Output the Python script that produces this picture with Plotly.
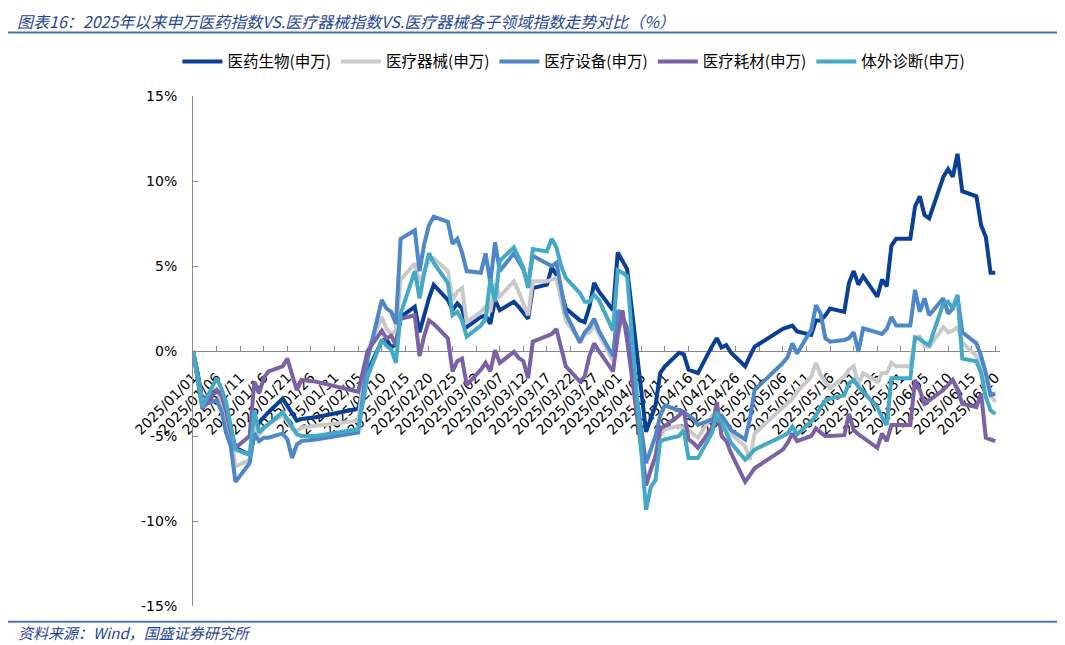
import plotly.graph_objects as go

# 交易日（1/1为基期；6/2图中有一个与5/30持平的点）
jan = [1, 2, 3, 6, 7, 8, 9, 10, 13, 14, 15, 16, 17, 20, 21, 22, 23, 24, 27]
feb = [5, 6, 7, 10, 11, 12, 13, 14, 17, 18, 19, 20, 21, 24, 25, 26, 27, 28]
mar = [3, 4, 5, 6, 7, 10, 11, 12, 13, 14, 17, 18, 19, 20, 21, 24, 25, 26, 27, 28, 31]
apr = [1, 2, 3, 7, 8, 9, 10, 11, 14, 15, 16, 17, 18, 21, 22, 23, 24, 25, 28, 29, 30]
may = [6, 7, 8, 9, 12, 13, 14, 15, 16, 19, 20, 21, 22, 23, 26, 27, 28, 29, 30]
jun = [2, 3, 4, 5, 6, 9, 10, 11, 12, 13, 16, 17, 18, 19, 20]

dates = []
for m, days in enumerate([jan, feb, mar, apr, may, jun], start=1):
    dates += ['2025-%02d-%02d' % (m, d) for d in days]

# 累计涨跌幅（%），按月分行
pharma = [
    0, -1.3, -2.9, -2.3, -2.7, -3.4, -4.6, -5.7, -6.1, -5.0, -4.2, -3.9, -3.6, -2.8, -3.2, -3.7, -4.1, -4.0, -3.9,
    -3.4, -2.3, -1.2, 0.6, 0.7, 0.2, 0.4, 2.0, 2.6, 1.1, 2.2, 3.1, 3.9, 3.0, 2.4, 2.8, 2.5, 1.4,
    2.0, 2.1, 1.6, 3.0, 2.4, 2.9, 2.6, 2.2, 1.9, 3.7, 3.9, 4.9, 4.5, 3.5, 2.5, 1.8, 1.7, 2.6, 4.0, 3.5, 2.4,
    5.8, 5.3, 4.8, -4.75, -4.0, -3.2, -1.3, -0.9, -0.1, -0.2, -1.1, -1.2, -1.3, 0.3, 0.75, 0.2, 0.35, -0.1, -0.9, -0.3, 0.25,
    1.3, 1.4, 1.5, 1.15, 0.95, 1.8, 1.8, 2.1, 2.5, 2.3, 4.0, 4.7, 3.9, 4.4, 3.2, 4.2, 3.8, 6.2, 6.6,
    6.6, 8.5, 9.1, 8.0, 7.8, 10.25, 10.7, 10.25, 11.6, 9.4, 9.1, 7.4, 6.7, 4.6, 4.6,
]
device = [
    0, -1.4, -3.0, -2.4, -2.9, -4.0, -5.0, -6.8, -6.4, -4.4, -4.9, -4.6, -4.3, -3.8, -4.1, -4.6, -4.7, -4.5, -4.4,
    -4.1, -2.0, 0.0, 2.0, 1.3, 1.0, 1.2, 4.2, 5.15, 4.0, 4.7, 5.35, 5.45, 4.7, 3.0, 3.5, 3.7, 1.7,
    2.3, 2.6, 2.3, 4.0, 3.2, 4.1, 3.5, 2.8, 2.1, 4.1, 4.1, 4.2, 4.3, 3.0, 1.8, 0.6, 1.0, 1.1, 1.5, 1.0, -0.6,
    2.4, 1.8, 1.2, -7.7, -7.0, -6.2, -5.0, -4.6, -4.4, -4.5, -4.65, -4.9, -5.1, -3.8, -3.9, -4.2, -4.6, -4.9, -5.6, -6.4, -4.85,
    -3.3, -3.1, -2.8, -2.4, -1.5, -0.7, -1.4, -1.8, -2.2, -1.5, -1.1, -0.9, -2.0, -1.3, -1.8, -1.3, -1.3, -0.7, -0.9,
    -0.9, 0.75, 0.85, 0.3, 0.25, 1.4, 1.1, 1.2, 1.4, 0.5, -0.3, -0.8, -1.6, -2.6, -3.0,
]
equipment = [
    0, -1.5, -3.2, -2.9, -3.5, -4.8, -5.6, -7.7, -6.6, -4.85, -5.3, -5.1, -5.1, -4.85, -5.2, -6.3, -5.5, -5.3, -5.2,
    -4.8, -2.5, -0.5, 3.0, 2.5, 2.3, 1.6, 6.6, 7.1, 4.7, 6.3, 7.4, 7.9, 7.6, 6.3, 6.6, 5.8, 4.7,
    4.6, 5.75, 4.0, 6.4, 4.7, 5.75, 5.3, 4.8, 3.9, 5.6, 5.15, 5.0, 5.2, 3.8, 2.2, 0.5, 1.1, 1.4, 1.9, 1.2, -0.3,
    2.4, 2.0, 1.4, -6.6, -5.8, -5.0, -3.8, -3.2, -3.5, -3.6, -3.8, -4.0, -4.35, -4.0, -3.9, -3.8, -4.2, -4.65, -5.2, -4.0, -2.3,
    -0.7, -0.35, 0.45, -0.15, 1.25, 2.7, 2.2, 0.75, 0.55, 0.65, 0.75, 1.1, -0.04, 1.33, 1.1, 1.0, 1.3, 2.0, 1.5,
    1.5, 3.6, 2.3, 3.1, 2.1, 3.1, 2.2, 2.5, 3.2, 1.1, 0.45, -0.3, -1.3, -2.6, -2.5,
]
consumables = [
    0, -1.8, -3.4, -2.3, -2.6, -3.5, -4.8, -5.7, -5.0, -1.8, -2.5, -1.6, -1.2, -0.9, -0.45, -1.4, -2.3, -1.7, -1.8,
    -2.4, -1.2, 0.0, 1.2, 0.75, 0.9, 0.35, 1.9, 2.1, -0.3, 0.9, 1.8, 1.6, 0.75, -1.2, -0.6, -0.45, -2.0,
    -1.1, -0.7, -1.2, 0.05, -0.7, -0.05, -0.4, -0.6, -1.6, 0.55, 0.85, 1.0, 1.3, 0.3, -0.9, -1.8, -1.5, -0.3, 0.45, 0.0, -1.2,
    0.9, 2.4, 0.6, -7.9, -7.0, -6.2, -4.6, -4.4, -3.8, -3.5, -5.2, -5.4, -5.7, -4.5, -3.0, -5.0, -5.3, -6.0, -7.7, -7.3, -6.9,
    -5.8, -5.4, -4.85, -5.3, -5.0, -4.55, -4.8, -5.0, -5.0, -4.95, -3.7, -4.65, -4.9, -5.1, -5.7, -4.85, -5.3, -4.35, -4.35,
    -4.35, -1.7, -2.3, -3.1, -2.9, -2.3, -2.0, -1.7, -2.3, -3.1, -3.3, -2.5, -5.1, -5.2, -5.3,
]
ivd = [
    0, -1.6, -3.3, -1.6, -2.2, -3.0, -4.5, -5.8, -6.1, -3.5, -4.8, -4.5, -4.3, -3.6, -4.0, -4.5, -4.9, -5.0, -5.0,
    -4.6, -3.0, -1.5, 0.65, 0.3, 0.1, -0.7, 2.2, 4.7, 3.1, 4.6, 5.75, 5.2, 4.0, 2.1, 2.3, 1.8, 0.85,
    1.5, 1.9, 4.2, 2.9, 5.3, 6.1, 5.5, 4.9, 3.7, 6.0, 5.85, 6.6, 6.1, 5.0, 4.3, 3.4, 2.9, 2.9, 3.3, 3.0, 1.2,
    4.75, 4.6, 4.4, -9.35, -8.0, -7.6, -5.3, -5.2, -5.0, -4.65, -6.3, -6.3, -6.3, -4.8, -3.6, -4.2, -4.85, -5.4, -6.4, -6.1, -5.8,
    -5.0, -4.85, -4.45, -4.9, -4.15, -3.8, -3.3, -2.9, -2.8, -2.6, -1.9, -1.7, -2.1, -2.4, -3.3, -3.9, -4.35, -1.6, -1.6,
    -1.6, 0.8, 0.7, 0.5, 0.35, 2.8, 2.9, 2.5, 3.3, -0.45, -0.6, -1.3, -2.7, -3.5, -3.7,
]

series_names = ['医药生物(申万)', '医疗器械(申万)', '医疗设备(申万)', '医疗耗材(申万)', '体外诊断(申万)']
series_values = [pharma, device, equipment, consumables, ivd]
colors = ['#0A3F96', '#C9C9C9', '#4E86CA', '#7B61A6', '#43A9C6']

y_ticks = [-15, -10, -5, 0, 5, 10, 15]
y_labels = ['%d%%' % v for v in y_ticks]

fig = go.Figure()
for name, vals, c in zip(series_names, series_values, colors):
    fig.add_trace(go.Scatter(
        x=dates, y=vals, mode='lines', name=name,
        line=dict(color=c, width=4),
    ))

# 页面body自带8px边距，图整体缩小8px以对齐
axis_font = dict(family='DejaVu Sans', size=14, color='black')
fig.update_layout(
    width=1057, height=637,
    margin=dict(l=185, r=65, t=88, b=39, autoexpand=False),
    paper_bgcolor='white', plot_bgcolor='white',
    showlegend=True,
    legend=dict(orientation='h', x=0.472, xanchor='center', y=1.067, yanchor='middle',
                font=dict(family='Noto Sans CJK SC', size=15.5, color='black'),
                itemwidth=40, traceorder='normal', bgcolor='rgba(0,0,0,0)'),
    xaxis=dict(
        type='date', range=['2025-01-01', '2025-06-21'],
        tick0='2025-01-01', dtick=5 * 86400000, tickformat='%Y/%m/%d',
        tickangle=-45, tickfont=axis_font,
        ticks='inside', ticklen=5, tickcolor='#888888',
        showline=True, linecolor='#888888', linewidth=1,
        showgrid=False, zeroline=False, automargin=False,
        anchor='free', position=0.5, layer='below traces', ticklabelstandoff=12,
    ),
    yaxis=dict(
        range=[-15, 15], tickmode='array', tickvals=y_ticks, ticktext=y_labels,
        tickfont=axis_font, ticks='inside', ticklen=5, tickcolor='#888888',
        showline=True, linecolor='#888888', linewidth=1, automargin=False,
        showgrid=False, zeroline=False, ticklabelstandoff=12,
    ),
)

# 标题与来源
fig.add_annotation(
    text='图表16：2025年以来申万医药指数VS.医疗器械指数VS.医疗器械各子领域指数走势对比（%）',
    xref='paper', yref='paper', x=-0.2195, y=1.1725, xanchor='left', yanchor='top',
    showarrow=False, borderpad=0,
    font=dict(family='Noto Sans CJK SC', size=16, color='#1F4496', style='italic'),
)
fig.add_annotation(
    text='资料来源：Wind，国盛证券研究所',
    xref='paper', yref='paper', x=-0.2195, y=-0.051, xanchor='left', yanchor='middle',
    showarrow=False, font=dict(family='Noto Sans CJK SC', size=15, color='#1F4496', style='italic'),
)
fig.add_shape(type='line', xref='paper', yref='paper', x0=-0.2354, x1=1.0768, y0=1.1245, y1=1.1245,
              line=dict(color='#4A72B8', width=2))
fig.add_shape(type='line', xref='paper', yref='paper', x0=-0.233, x1=1.0805, y0=-0.0308, y1=-0.0308,
              line=dict(color='#4A72B8', width=2))

fig.write_html('out.html')
